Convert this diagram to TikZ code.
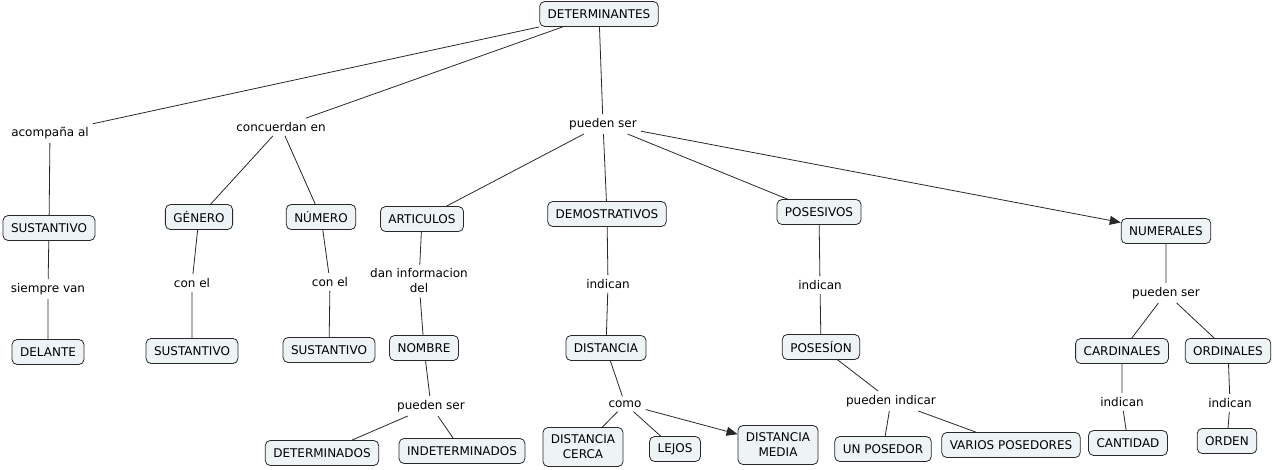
\documentclass[tikz,border=0pt]{standalone}
\usepackage{fontspec}
\setmainfont{DejaVu Sans}
\usetikzlibrary{arrows.meta}
\definecolor{conceptfill}{RGB}{238,244,246}
\definecolor{linecol}{RGB}{40,40,40}
\tikzset{
  concept/.style={draw=linecol, fill=conceptfill, rounded corners=5pt, line width=0.8pt,
    inner xsep=8pt, inner ysep=5pt, minimum height=25pt, align=center,
    font=\fontsize{12}{15}\selectfont},
  twoline/.style={concept, minimum height=39pt},
  linkword/.style={inner sep=4pt, align=center, font=\fontsize{12}{15}\selectfont},
  conn/.style={draw=linecol, line width=0.8pt},
  arr/.style={conn, -{Triangle[length=11pt,width=9pt]}}
}
\begin{document}
\begin{tikzpicture}[x=1pt,y=-1pt]
\useasboundingbox (0,0) rectangle (1274,469);
\node[concept] (det) at (599,14) {DETERMINANTES};
\node[linkword] (acomp) at (50,133) {acompaña al};
\node[linkword] (concu) at (281,127) {concuerdan en};
\node[linkword] (pueden) at (603,124) {pueden ser};
\node[concept] (sust) at (49,228) {SUSTANTIVO};
\node[linkword] (siempre) at (48,289) {siempre van};
\node[concept] (delante) at (48,352) {DELANTE};
\node[concept] (genero) at (199,217) {GÉNERO};
\node[concept] (numero) at (321,217) {NÚMERO};
\node[linkword] (conela) at (192,283) {con el};
\node[linkword] (conelb) at (330,282) {con el};
\node[concept] (susta) at (192,351) {SUSTANTIVO};
\node[concept] (sustb) at (329,350) {SUSTANTIVO};
\node[concept] (artic) at (422,219) {ARTICULOS};
\node[linkword] (daninfo) at (419,281) {dan informacion\\del};
\node[concept] (nombre) at (424,348) {NOMBRE};
\node[linkword] (puedenn) at (431,406) {pueden ser};
\node[concept] (determ) at (322,453) {DETERMINADOS};
\node[concept] (indeterm) at (462,451) {INDETERMINADOS};
\node[concept] (demos) at (607,214) {DEMOSTRATIVOS};
\node[linkword] (indicd) at (608,284) {indican};
\node[concept] (dist) at (606,348) {DISTANCIA};
\node[linkword] (como) at (625,404) {como};
\node[twoline] (cerca) at (583,447) {DISTANCIA\\CERCA};
\node[concept] (lejos) at (675,449) {LEJOS};
\node[twoline] (media) at (778,445) {DISTANCIA\\MEDIA};
\node[concept] (poses) at (819,212) {POSESIVOS};
\node[linkword] (indicp) at (820,285) {indican};
\node[concept] (posesion) at (821,347) {POSESÍON};
\node[linkword] (puedeni) at (891,401) {pueden indicar};
\node[concept] (unpos) at (883,449) {UN POSEDOR};
\node[concept] (varios) at (1011,445) {VARIOS POSEDORES};
\node[concept] (numer) at (1166,231) {NUMERALES};
\node[linkword] (puedenu) at (1166,293) {pueden ser};
\node[concept] (cardin) at (1122,351) {CARDINALES};
\node[concept] (ordin) at (1228,351) {ORDINALES};
\node[linkword] (indicc) at (1122,402) {indican};
\node[linkword] (indico) at (1230,403) {indican};
\node[concept] (cantid) at (1128,443) {CANTIDAD};
\node[concept] (orden) at (1227,441) {ORDEN};

\draw[conn] (det) -- (acomp) (acomp) -- (sust) (sust) -- (siempre) (siempre) -- (delante);
\draw[conn] (det) -- (concu) (concu) -- (genero) (concu) -- (numero);
\draw[conn] (genero) -- (conela) (conela) -- (susta) (numero) -- (conelb) (conelb) -- (sustb);
\draw[conn] (det) -- (pueden) (pueden) -- (artic) (pueden) -- (demos) (pueden) -- (poses);
\draw[arr] (pueden) -- (numer);
\draw[conn] (artic) -- (daninfo) (daninfo) -- (nombre) (nombre) -- (puedenn);
\draw[conn] (puedenn) -- (determ) (puedenn) -- (indeterm);
\draw[conn] (demos) -- (indicd) (indicd) -- (dist) (dist) -- (como);
\draw[conn] (como) -- (cerca) (como) -- (lejos);
\draw[arr] (como) -- (media);
\draw[conn] (poses) -- (indicp) (indicp) -- (posesion) (posesion) -- (puedeni);
\draw[conn] (puedeni) -- (unpos) (puedeni) -- (varios);
\draw[conn] (numer) -- (puedenu) (puedenu) -- (cardin) (puedenu) -- (ordin);
\draw[conn] (cardin) -- (indicc) (indicc) -- (cantid) (ordin) -- (indico) (indico) -- (orden);
\end{tikzpicture}
\end{document}
